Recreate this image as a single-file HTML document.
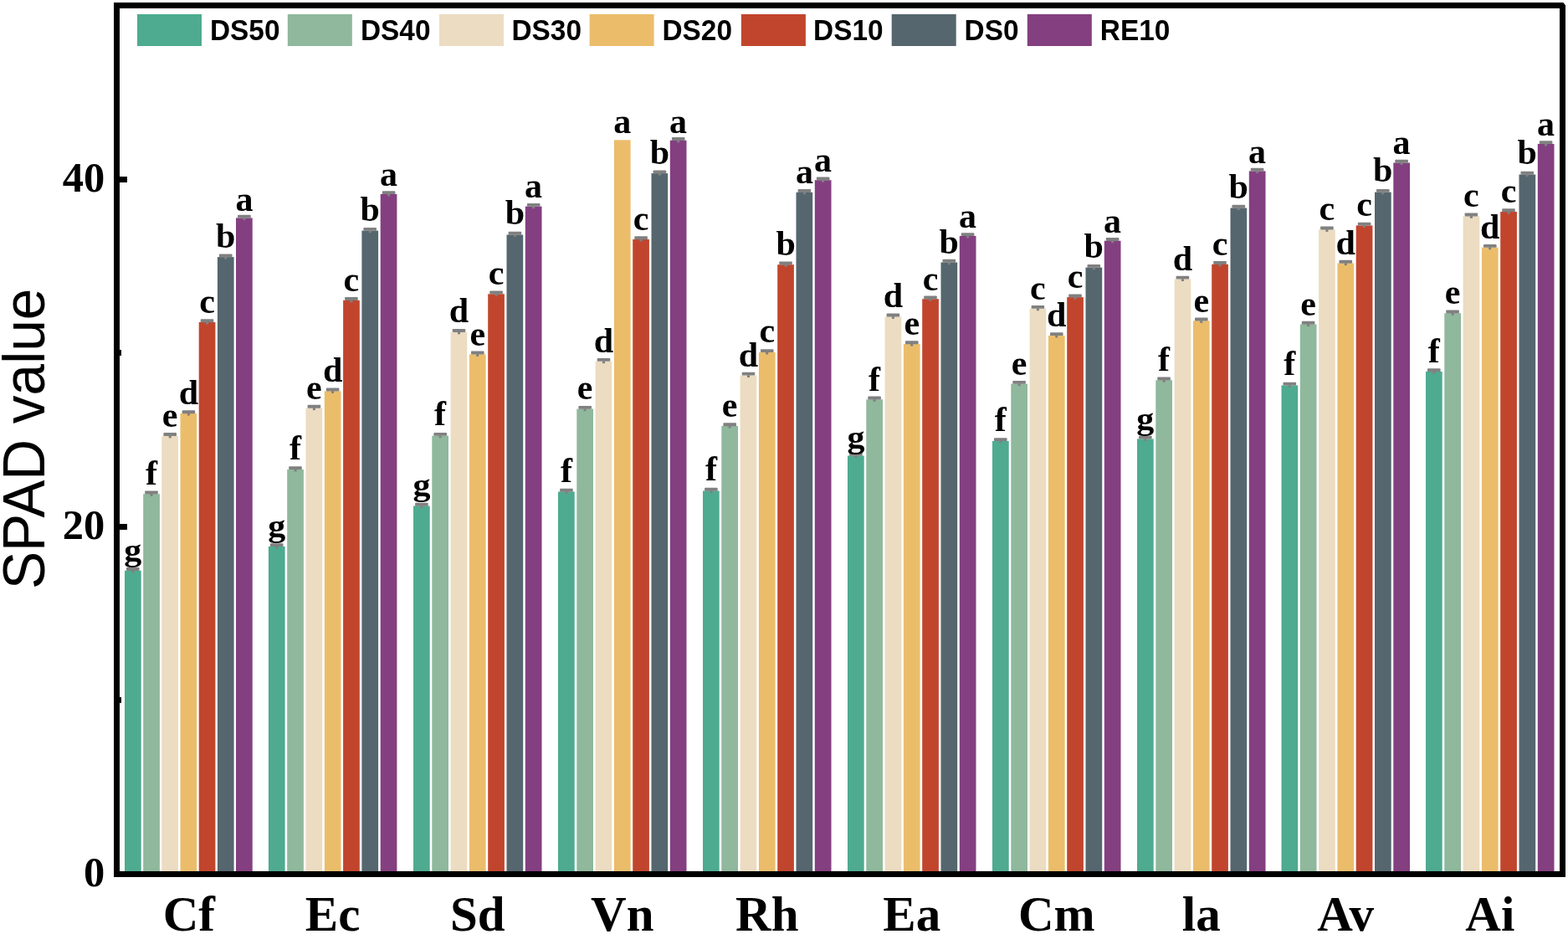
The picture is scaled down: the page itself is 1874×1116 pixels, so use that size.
<!DOCTYPE html>
<html><head><meta charset="utf-8"><title>SPAD value</title>
<style>
html,body{margin:0;padding:0;background:#fff;}
body{width:1874px;height:1116px;overflow:hidden;}
svg{display:block;}
.lg{font-family:"Liberation Sans",Arial,sans-serif;font-weight:bold;font-size:33.4px;fill:#000;}
.lb{font-family:"Liberation Serif","Times New Roman",serif;font-weight:bold;font-size:42px;fill:#000;text-anchor:middle;}
.tk{font-family:"Liberation Serif","Times New Roman",serif;font-weight:bold;font-size:50.5px;fill:#000;text-anchor:end;}
.xl{font-family:"Liberation Serif","Times New Roman",serif;font-weight:bold;font-size:59px;fill:#000;text-anchor:middle;}
.yt{font-family:"Liberation Sans",Arial,sans-serif;font-size:67.6px;fill:#000;}
</style></head><body>
<svg width="1874" height="1116" viewBox="0 0 1874 1116">
<rect x="0" y="0" width="1874" height="1116" fill="#fff"/>

<g>
<rect x="149.0" y="681.7" width="19.7" height="360.3" fill="#4EAB90"/>
<rect x="171.2" y="590.2" width="19.7" height="451.8" fill="#8FB89C"/>
<rect x="193.3" y="520.8" width="19.7" height="521.2" fill="#ECDCC1"/>
<rect x="215.5" y="494.0" width="19.7" height="548.0" fill="#EBBD6B"/>
<rect x="237.7" y="385.0" width="19.7" height="657.0" fill="#C1452D"/>
<rect x="259.9" y="307.1" width="19.7" height="734.9" fill="#55666E"/>
<rect x="282.0" y="260.4" width="19.7" height="781.6" fill="#843F81"/>
</g>
<g>
<rect x="320.9" y="652.9" width="19.7" height="389.1" fill="#4EAB90"/>
<rect x="343.2" y="560.9" width="19.7" height="481.1" fill="#8FB89C"/>
<rect x="365.5" y="487.5" width="19.7" height="554.5" fill="#ECDCC1"/>
<rect x="387.8" y="467.3" width="19.7" height="574.7" fill="#EBBD6B"/>
<rect x="410.1" y="358.8" width="19.7" height="683.2" fill="#C1452D"/>
<rect x="432.4" y="275.6" width="19.7" height="766.4" fill="#55666E"/>
<rect x="454.7" y="231.9" width="19.7" height="810.1" fill="#843F81"/>
</g>
<g>
<rect x="494.0" y="604.5" width="19.7" height="437.5" fill="#4EAB90"/>
<rect x="516.3" y="520.6" width="19.7" height="521.4" fill="#8FB89C"/>
<rect x="538.6" y="396.7" width="19.7" height="645.3" fill="#ECDCC1"/>
<rect x="560.9" y="423.3" width="19.7" height="618.7" fill="#EBBD6B"/>
<rect x="583.2" y="351.3" width="19.7" height="690.7" fill="#C1452D"/>
<rect x="605.5" y="280.5" width="19.7" height="761.5" fill="#55666E"/>
<rect x="627.8" y="246.6" width="19.7" height="795.4" fill="#843F81"/>
</g>
<g>
<rect x="667.0" y="587.5" width="19.7" height="454.5" fill="#4EAB90"/>
<rect x="689.3" y="488.6" width="19.7" height="553.4" fill="#8FB89C"/>
<rect x="711.6" y="431.6" width="19.7" height="610.4" fill="#ECDCC1"/>
<rect x="733.9" y="167.3" width="19.7" height="874.7" fill="#EBBD6B"/>
<rect x="756.2" y="286.0" width="19.7" height="756.0" fill="#C1452D"/>
<rect x="778.5" y="207.1" width="19.7" height="834.9" fill="#55666E"/>
<rect x="800.8" y="167.7" width="19.7" height="874.3" fill="#843F81"/>
</g>
<g>
<rect x="840.0" y="586.5" width="19.7" height="455.5" fill="#4EAB90"/>
<rect x="862.3" y="509.0" width="19.7" height="533.0" fill="#8FB89C"/>
<rect x="884.6" y="448.4" width="19.7" height="593.6" fill="#ECDCC1"/>
<rect x="906.9" y="420.9" width="19.7" height="621.1" fill="#EBBD6B"/>
<rect x="929.2" y="316.2" width="19.7" height="725.8" fill="#C1452D"/>
<rect x="951.5" y="229.8" width="19.7" height="812.2" fill="#55666E"/>
<rect x="973.8" y="215.2" width="19.7" height="826.8" fill="#843F81"/>
</g>
<g>
<rect x="1013.0" y="544.5" width="19.7" height="497.5" fill="#4EAB90"/>
<rect x="1035.3" y="477.3" width="19.7" height="564.7" fill="#8FB89C"/>
<rect x="1057.6" y="378.3" width="19.7" height="663.7" fill="#ECDCC1"/>
<rect x="1079.9" y="411.0" width="19.7" height="631.0" fill="#EBBD6B"/>
<rect x="1102.2" y="357.2" width="19.7" height="684.8" fill="#C1452D"/>
<rect x="1124.5" y="313.5" width="19.7" height="728.5" fill="#55666E"/>
<rect x="1146.8" y="281.9" width="19.7" height="760.1" fill="#843F81"/>
</g>
<g>
<rect x="1186.0" y="526.9" width="19.7" height="515.1" fill="#4EAB90"/>
<rect x="1208.3" y="458.6" width="19.7" height="583.4" fill="#8FB89C"/>
<rect x="1230.6" y="368.6" width="19.7" height="673.4" fill="#ECDCC1"/>
<rect x="1252.9" y="400.9" width="19.7" height="641.1" fill="#EBBD6B"/>
<rect x="1275.2" y="355.1" width="19.7" height="686.9" fill="#C1452D"/>
<rect x="1297.5" y="319.6" width="19.7" height="722.4" fill="#55666E"/>
<rect x="1319.8" y="287.7" width="19.7" height="754.3" fill="#843F81"/>
</g>
<g>
<rect x="1359.0" y="524.4" width="19.7" height="517.6" fill="#4EAB90"/>
<rect x="1381.3" y="454.2" width="19.7" height="587.8" fill="#8FB89C"/>
<rect x="1403.6" y="333.4" width="19.7" height="708.6" fill="#ECDCC1"/>
<rect x="1425.9" y="383.3" width="19.7" height="658.7" fill="#EBBD6B"/>
<rect x="1448.2" y="315.8" width="19.7" height="726.2" fill="#C1452D"/>
<rect x="1470.5" y="248.5" width="19.7" height="793.5" fill="#55666E"/>
<rect x="1492.8" y="204.4" width="19.7" height="837.6" fill="#843F81"/>
</g>
<g>
<rect x="1531.5" y="460.4" width="19.7" height="581.6" fill="#4EAB90"/>
<rect x="1553.8" y="387.5" width="19.7" height="654.5" fill="#8FB89C"/>
<rect x="1576.1" y="274.3" width="19.7" height="767.7" fill="#ECDCC1"/>
<rect x="1598.4" y="314.5" width="19.7" height="727.5" fill="#EBBD6B"/>
<rect x="1620.7" y="269.4" width="19.7" height="772.6" fill="#C1452D"/>
<rect x="1643.0" y="229.6" width="19.7" height="812.4" fill="#55666E"/>
<rect x="1665.3" y="194.5" width="19.7" height="847.5" fill="#843F81"/>
</g>
<g>
<rect x="1704.0" y="444.0" width="19.7" height="598.0" fill="#4EAB90"/>
<rect x="1726.3" y="374.2" width="19.7" height="667.8" fill="#8FB89C"/>
<rect x="1748.6" y="258.2" width="19.7" height="783.8" fill="#ECDCC1"/>
<rect x="1770.9" y="295.6" width="19.7" height="746.4" fill="#EBBD6B"/>
<rect x="1793.2" y="253.0" width="19.7" height="789.0" fill="#C1452D"/>
<rect x="1815.5" y="208.5" width="19.7" height="833.5" fill="#55666E"/>
<rect x="1837.8" y="171.9" width="19.7" height="870.1" fill="#843F81"/>
</g>
<g fill="#808080">
<rect x="151.0" y="678.0" width="15.6" height="3.9" rx="0.8"/><rect x="157.3" y="681.5" width="3" height="2.8"/>
<rect x="173.2" y="586.5" width="15.6" height="3.9" rx="0.8"/><rect x="179.5" y="590.0" width="3" height="2.8"/>
<rect x="195.4" y="517.1" width="15.6" height="3.9" rx="0.8"/><rect x="201.7" y="520.6" width="3" height="2.8"/>
<rect x="217.6" y="490.3" width="15.6" height="3.9" rx="0.8"/><rect x="223.9" y="493.8" width="3" height="2.8"/>
<rect x="239.7" y="381.3" width="15.6" height="3.9" rx="0.8"/><rect x="246.0" y="384.8" width="3" height="2.8"/>
<rect x="261.9" y="303.4" width="15.6" height="3.9" rx="0.8"/><rect x="268.2" y="306.9" width="3" height="2.8"/>
<rect x="284.1" y="256.7" width="15.6" height="3.9" rx="0.8"/><rect x="290.4" y="260.2" width="3" height="2.8"/>
<rect x="322.9" y="649.2" width="15.6" height="3.9" rx="0.8"/><rect x="329.2" y="652.7" width="3" height="2.8"/>
<rect x="345.2" y="557.2" width="15.6" height="3.9" rx="0.8"/><rect x="351.6" y="560.7" width="3" height="2.8"/>
<rect x="367.6" y="483.8" width="15.6" height="3.9" rx="0.8"/><rect x="373.9" y="487.3" width="3" height="2.8"/>
<rect x="389.8" y="463.6" width="15.6" height="3.9" rx="0.8"/><rect x="396.1" y="467.1" width="3" height="2.8"/>
<rect x="412.1" y="355.1" width="15.6" height="3.9" rx="0.8"/><rect x="418.4" y="358.6" width="3" height="2.8"/>
<rect x="434.4" y="271.9" width="15.6" height="3.9" rx="0.8"/><rect x="440.8" y="275.4" width="3" height="2.8"/>
<rect x="456.8" y="228.2" width="15.6" height="3.9" rx="0.8"/><rect x="463.1" y="231.7" width="3" height="2.8"/>
<rect x="496.1" y="600.8" width="15.6" height="3.9" rx="0.8"/><rect x="502.4" y="604.3" width="3" height="2.8"/>
<rect x="518.4" y="516.9" width="15.6" height="3.9" rx="0.8"/><rect x="524.6" y="520.4" width="3" height="2.8"/>
<rect x="540.7" y="393.0" width="15.6" height="3.9" rx="0.8"/><rect x="547.0" y="396.5" width="3" height="2.8"/>
<rect x="563.0" y="419.6" width="15.6" height="3.9" rx="0.8"/><rect x="569.2" y="423.1" width="3" height="2.8"/>
<rect x="585.3" y="347.6" width="15.6" height="3.9" rx="0.8"/><rect x="591.6" y="351.1" width="3" height="2.8"/>
<rect x="607.6" y="276.8" width="15.6" height="3.9" rx="0.8"/><rect x="613.9" y="280.3" width="3" height="2.8"/>
<rect x="629.9" y="242.9" width="15.6" height="3.9" rx="0.8"/><rect x="636.1" y="246.4" width="3" height="2.8"/>
<rect x="669.1" y="583.8" width="15.6" height="3.9" rx="0.8"/><rect x="675.4" y="587.3" width="3" height="2.8"/>
<rect x="691.4" y="484.9" width="15.6" height="3.9" rx="0.8"/><rect x="697.6" y="488.4" width="3" height="2.8"/>
<rect x="713.7" y="427.9" width="15.6" height="3.9" rx="0.8"/><rect x="720.0" y="431.4" width="3" height="2.8"/>
<rect x="758.3" y="282.3" width="15.6" height="3.9" rx="0.8"/><rect x="764.6" y="285.8" width="3" height="2.8"/>
<rect x="780.6" y="203.4" width="15.6" height="3.9" rx="0.8"/><rect x="786.9" y="206.9" width="3" height="2.8"/>
<rect x="802.9" y="164.0" width="15.6" height="3.9" rx="0.8"/><rect x="809.1" y="167.5" width="3" height="2.8"/>
<rect x="842.1" y="582.8" width="15.6" height="3.9" rx="0.8"/><rect x="848.4" y="586.3" width="3" height="2.8"/>
<rect x="864.4" y="505.3" width="15.6" height="3.9" rx="0.8"/><rect x="870.6" y="508.8" width="3" height="2.8"/>
<rect x="886.7" y="444.7" width="15.6" height="3.9" rx="0.8"/><rect x="893.0" y="448.2" width="3" height="2.8"/>
<rect x="909.0" y="417.2" width="15.6" height="3.9" rx="0.8"/><rect x="915.2" y="420.7" width="3" height="2.8"/>
<rect x="931.3" y="312.5" width="15.6" height="3.9" rx="0.8"/><rect x="937.6" y="316.0" width="3" height="2.8"/>
<rect x="953.6" y="226.1" width="15.6" height="3.9" rx="0.8"/><rect x="959.9" y="229.6" width="3" height="2.8"/>
<rect x="975.9" y="211.5" width="15.6" height="3.9" rx="0.8"/><rect x="982.1" y="215.0" width="3" height="2.8"/>
<rect x="1015.1" y="540.8" width="15.6" height="3.9" rx="0.8"/><rect x="1021.4" y="544.3" width="3" height="2.8"/>
<rect x="1037.3" y="473.6" width="15.6" height="3.9" rx="0.8"/><rect x="1043.6" y="477.1" width="3" height="2.8"/>
<rect x="1059.6" y="374.6" width="15.6" height="3.9" rx="0.8"/><rect x="1065.9" y="378.1" width="3" height="2.8"/>
<rect x="1082.0" y="407.3" width="15.6" height="3.9" rx="0.8"/><rect x="1088.2" y="410.8" width="3" height="2.8"/>
<rect x="1104.2" y="353.5" width="15.6" height="3.9" rx="0.8"/><rect x="1110.5" y="357.0" width="3" height="2.8"/>
<rect x="1126.5" y="309.8" width="15.6" height="3.9" rx="0.8"/><rect x="1132.8" y="313.3" width="3" height="2.8"/>
<rect x="1148.8" y="278.2" width="15.6" height="3.9" rx="0.8"/><rect x="1155.1" y="281.7" width="3" height="2.8"/>
<rect x="1188.0" y="523.2" width="15.6" height="3.9" rx="0.8"/><rect x="1194.3" y="526.7" width="3" height="2.8"/>
<rect x="1210.3" y="454.9" width="15.6" height="3.9" rx="0.8"/><rect x="1216.6" y="458.4" width="3" height="2.8"/>
<rect x="1232.6" y="364.9" width="15.6" height="3.9" rx="0.8"/><rect x="1238.9" y="368.4" width="3" height="2.8"/>
<rect x="1255.0" y="397.2" width="15.6" height="3.9" rx="0.8"/><rect x="1261.2" y="400.7" width="3" height="2.8"/>
<rect x="1277.2" y="351.4" width="15.6" height="3.9" rx="0.8"/><rect x="1283.5" y="354.9" width="3" height="2.8"/>
<rect x="1299.5" y="315.9" width="15.6" height="3.9" rx="0.8"/><rect x="1305.8" y="319.4" width="3" height="2.8"/>
<rect x="1321.8" y="284.0" width="15.6" height="3.9" rx="0.8"/><rect x="1328.1" y="287.5" width="3" height="2.8"/>
<rect x="1361.0" y="520.7" width="15.6" height="3.9" rx="0.8"/><rect x="1367.3" y="524.2" width="3" height="2.8"/>
<rect x="1383.3" y="450.5" width="15.6" height="3.9" rx="0.8"/><rect x="1389.6" y="454.0" width="3" height="2.8"/>
<rect x="1405.6" y="329.7" width="15.6" height="3.9" rx="0.8"/><rect x="1411.9" y="333.2" width="3" height="2.8"/>
<rect x="1428.0" y="379.6" width="15.6" height="3.9" rx="0.8"/><rect x="1434.2" y="383.1" width="3" height="2.8"/>
<rect x="1450.2" y="312.1" width="15.6" height="3.9" rx="0.8"/><rect x="1456.5" y="315.6" width="3" height="2.8"/>
<rect x="1472.5" y="244.8" width="15.6" height="3.9" rx="0.8"/><rect x="1478.8" y="248.3" width="3" height="2.8"/>
<rect x="1494.8" y="200.7" width="15.6" height="3.9" rx="0.8"/><rect x="1501.1" y="204.2" width="3" height="2.8"/>
<rect x="1533.5" y="456.7" width="15.6" height="3.9" rx="0.8"/><rect x="1539.8" y="460.2" width="3" height="2.8"/>
<rect x="1555.8" y="383.8" width="15.6" height="3.9" rx="0.8"/><rect x="1562.1" y="387.3" width="3" height="2.8"/>
<rect x="1578.1" y="270.6" width="15.6" height="3.9" rx="0.8"/><rect x="1584.4" y="274.1" width="3" height="2.8"/>
<rect x="1600.5" y="310.8" width="15.6" height="3.9" rx="0.8"/><rect x="1606.8" y="314.3" width="3" height="2.8"/>
<rect x="1622.8" y="265.7" width="15.6" height="3.9" rx="0.8"/><rect x="1629.0" y="269.2" width="3" height="2.8"/>
<rect x="1645.0" y="225.9" width="15.6" height="3.9" rx="0.8"/><rect x="1651.3" y="229.4" width="3" height="2.8"/>
<rect x="1667.3" y="190.8" width="15.6" height="3.9" rx="0.8"/><rect x="1673.6" y="194.3" width="3" height="2.8"/>
<rect x="1706.0" y="440.3" width="15.6" height="3.9" rx="0.8"/><rect x="1712.3" y="443.8" width="3" height="2.8"/>
<rect x="1728.3" y="370.5" width="15.6" height="3.9" rx="0.8"/><rect x="1734.6" y="374.0" width="3" height="2.8"/>
<rect x="1750.6" y="254.5" width="15.6" height="3.9" rx="0.8"/><rect x="1756.9" y="258.0" width="3" height="2.8"/>
<rect x="1773.0" y="291.9" width="15.6" height="3.9" rx="0.8"/><rect x="1779.2" y="295.4" width="3" height="2.8"/>
<rect x="1795.2" y="249.3" width="15.6" height="3.9" rx="0.8"/><rect x="1801.5" y="252.8" width="3" height="2.8"/>
<rect x="1817.5" y="204.8" width="15.6" height="3.9" rx="0.8"/><rect x="1823.8" y="208.3" width="3" height="2.8"/>
<rect x="1839.8" y="168.2" width="15.6" height="3.9" rx="0.8"/><rect x="1846.1" y="171.7" width="3" height="2.8"/>
</g>
<g class="lbg">
<text class="lb" transform="translate(158.8,651.0) scale(1,0.917)" x="0" y="21.2">g</text>
<text class="lb" x="181.0" y="578.6">f</text>
<text class="lb" x="203.2" y="510.3">e</text>
<text class="lb" x="225.4" y="483.1">d</text>
<text class="lb" x="247.5" y="374.4">c</text>
<text class="lb" x="269.7" y="295.7">b</text>
<text class="lb" x="291.9" y="252.3">a</text>
<text class="lb" transform="translate(330.8,621.9) scale(1,0.917)" x="0" y="21.2">g</text>
<text class="lb" x="353.1" y="549.2">f</text>
<text class="lb" x="375.4" y="477.0">e</text>
<text class="lb" x="397.6" y="456.1">d</text>
<text class="lb" x="419.9" y="348.0">c</text>
<text class="lb" x="442.2" y="264.2">b</text>
<text class="lb" x="464.6" y="222.3">a</text>
<text class="lb" transform="translate(503.9,573.0) scale(1,0.917)" x="0" y="21.2">g</text>
<text class="lb" x="526.1" y="508.4">f</text>
<text class="lb" x="548.5" y="385.3">d</text>
<text class="lb" x="570.8" y="412.6">e</text>
<text class="lb" x="593.1" y="340.1">c</text>
<text class="lb" x="615.4" y="268.0">b</text>
<text class="lb" x="637.6" y="236.2">a</text>
<text class="lb" x="676.9" y="576.1">f</text>
<text class="lb" x="699.1" y="477.2">e</text>
<text class="lb" x="721.5" y="420.9">d</text>
<text class="lb" x="743.8" y="159.1">a</text>
<text class="lb" x="766.1" y="275.3">c</text>
<text class="lb" x="788.4" y="195.7">b</text>
<text class="lb" x="810.6" y="158.7">a</text>
<text class="lb" x="849.9" y="574.0">f</text>
<text class="lb" x="872.1" y="497.8">e</text>
<text class="lb" x="894.5" y="437.6">d</text>
<text class="lb" x="916.8" y="409.0">c</text>
<text class="lb" x="939.1" y="305.0">b</text>
<text class="lb" x="961.4" y="219.0">a</text>
<text class="lb" x="983.6" y="204.8">a</text>
<text class="lb" transform="translate(1022.9,515.5) scale(1,0.917)" x="0" y="21.2">g</text>
<text class="lb" x="1045.1" y="466.9">f</text>
<text class="lb" x="1067.4" y="366.5">d</text>
<text class="lb" x="1089.8" y="400.2">e</text>
<text class="lb" x="1112.0" y="346.5">c</text>
<text class="lb" x="1134.3" y="302.8">b</text>
<text class="lb" x="1156.6" y="272.3">a</text>
<text class="lb" x="1195.8" y="515.3">f</text>
<text class="lb" x="1218.1" y="447.5">e</text>
<text class="lb" x="1240.4" y="357.8">c</text>
<text class="lb" x="1262.8" y="389.5">d</text>
<text class="lb" x="1285.0" y="344.3">c</text>
<text class="lb" x="1307.3" y="308.4">b</text>
<text class="lb" x="1329.6" y="278.3">a</text>
<text class="lb" transform="translate(1368.8,494.0) scale(1,0.917)" x="0" y="21.2">g</text>
<text class="lb" x="1391.1" y="442.7">f</text>
<text class="lb" x="1413.4" y="323.1">d</text>
<text class="lb" x="1435.8" y="372.6">e</text>
<text class="lb" x="1458.0" y="305.0">c</text>
<text class="lb" x="1480.3" y="237.1">b</text>
<text class="lb" x="1502.6" y="194.7">a</text>
<text class="lb" x="1541.3" y="448.2">f</text>
<text class="lb" x="1563.6" y="376.5">e</text>
<text class="lb" x="1585.9" y="262.9">c</text>
<text class="lb" x="1608.2" y="303.8">d</text>
<text class="lb" x="1630.5" y="257.5">c</text>
<text class="lb" x="1652.8" y="217.1">b</text>
<text class="lb" x="1675.1" y="184.4">a</text>
<text class="lb" x="1713.8" y="432.5">f</text>
<text class="lb" x="1736.1" y="363.3">e</text>
<text class="lb" x="1758.4" y="247.2">c</text>
<text class="lb" x="1780.8" y="284.8">d</text>
<text class="lb" x="1803.0" y="241.8">c</text>
<text class="lb" x="1825.3" y="195.6">b</text>
<text class="lb" x="1847.6" y="162.3">a</text>
</g>
<rect x="139.5" y="6.5" width="1728" height="1038" fill="none" stroke="#000" stroke-width="7"/>
<polygon points="1868.2,3 1871,3 1871,6.2" fill="#fff"/>
<g fill="#000">
<rect x="143" y="211.0" width="9" height="7"/>
<rect x="143" y="626.0" width="9" height="7"/>
<rect x="143" y="418.0" width="2" height="7"/>
<rect x="143" y="832.9" width="2" height="7"/>
</g>
<text class="tk" x="125.3" y="228.5">40</text>
<text class="tk" x="125.3" y="643.5">20</text>
<text class="tk" x="125.3" y="1058.5">0</text>
<text class="xl" x="225.8" y="1112">Cf</text>
<text class="xl" x="397.6" y="1112">Ec</text>
<text class="xl" x="570.8" y="1112">Sd</text>
<text class="xl" x="743.8" y="1112">Vn</text>
<text class="xl" x="916.8" y="1112">Rh</text>
<text class="xl" x="1089.8" y="1112">Ea</text>
<text class="xl" x="1262.8" y="1112">Cm</text>
<text class="xl" x="1435.8" y="1112">la</text>
<text class="xl" x="1608.2" y="1112">Av</text>
<text class="xl" x="1780.8" y="1112">Ai</text>
<text class="yt" transform="translate(53.2,704) rotate(-90) scale(1,1.04)" x="0" y="0">SPAD value</text>
<rect x="164" y="17" width="77" height="38" fill="#4EAB90"/>
<text class="lg" transform="translate(250.97,47.8) scale(1,1.075)">DS50</text>
<rect x="343.8" y="17" width="77" height="38" fill="#8FB89C"/>
<text class="lg" transform="translate(430.97,47.8) scale(1,1.075)">DS40</text>
<rect x="525" y="17" width="77" height="38" fill="#ECDCC1"/>
<text class="lg" transform="translate(611.47,47.8) scale(1,1.075)">DS30</text>
<rect x="704.6" y="17" width="77" height="38" fill="#EBBD6B"/>
<text class="lg" transform="translate(791.47,47.8) scale(1,1.075)">DS20</text>
<rect x="885.9" y="17" width="77" height="38" fill="#C1452D"/>
<text class="lg" transform="translate(972.07,47.8) scale(1,1.075)">DS10</text>
<rect x="1065.7" y="17" width="77" height="38" fill="#55666E"/>
<text class="lg" transform="translate(1152.57,47.8) scale(1,1.075)">DS0</text>
<rect x="1227.8" y="17" width="77" height="38" fill="#843F81"/>
<text class="lg" transform="translate(1314.77,47.8) scale(1,1.075)">RE10</text>
</svg></body></html>
